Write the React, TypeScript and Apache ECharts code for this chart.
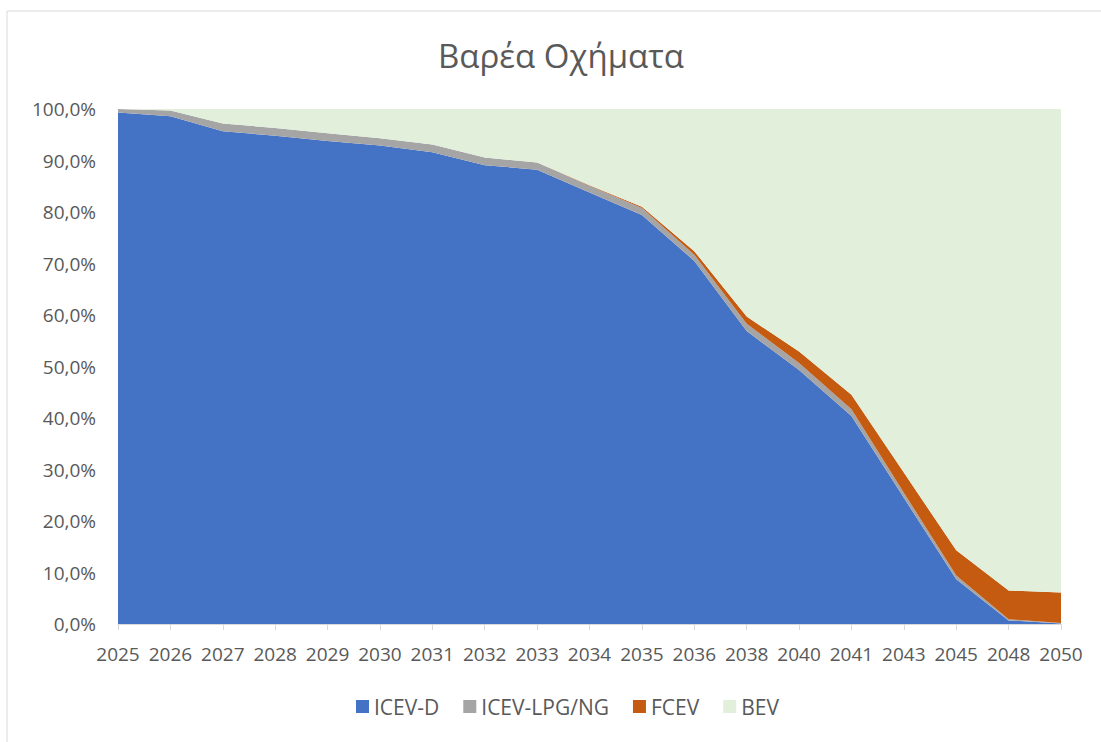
import React, { useEffect, useRef } from "react";
import * as echarts from "echarts";

const years = ["2025","2026","2027","2028","2029","2030","2031","2032","2033","2034","2035","2036","2038","2040","2041","2043","2045","2048","2050"];
const icevD = [99.3, 98.6, 95.7, 94.8, 93.8, 92.9, 91.6, 89.1, 88.2, 83.8, 79.4, 70.5, 56.9, 49.3, 40.4, 24.5, 8.7, 0.7, 0.1];
const icevLpg = [0.7, 1.1, 1.5, 1.5, 1.5, 1.4, 1.5, 1.5, 1.4, 1.3, 1.4, 1.2, 1.4, 1.4, 1.3, 1.0, 0.7, 0.2, 0.1];
const fcev = [0.0, 0.0, 0.0, 0.0, 0.0, 0.0, 0.0, 0.0, 0.0, 0.1, 0.2, 0.7, 1.4, 2.2, 2.8, 3.9, 4.9, 5.6, 5.9];
const bev = [0.0, 0.3, 2.8, 3.7, 4.7, 5.7, 6.9, 9.4, 10.4, 14.8, 19.0, 27.6, 40.3, 47.1, 55.5, 70.6, 85.7, 93.5, 93.9];
const seriesNames = ["ICEV-D", "ICEV-LPG/NG", "FCEV", "BEV"];
const seriesColors = ["#4472C4", "#A5A5A5", "#C55A11", "#E2EFDA"];
const yTicks = [0, 10, 20, 30, 40, 50, 60, 70, 80, 90, 100];

const FONT = "'Open Sans', 'Noto Sans', sans-serif";
const TXT = "#595959";

export default function App() {
  const ref = useRef<HTMLDivElement>(null);
  useEffect(() => {
    if (!ref.current) return;
    const chart = echarts.init(ref.current, undefined, { renderer: "svg" });
    const values = [icevD, icevLpg, fcev, bev];
    chart.setOption({
      animation: false,
      backgroundColor: "#ffffff",
      textStyle: { fontFamily: FONT },
      title: {
        text: "Βαρέα Οχήματα",
        left: 433,
        top: 34,
        textStyle: { fontFamily: FONT, fontSize: 33, fontWeight: "normal", color: TXT },
      },
      graphic: [
        { type: "line", shape: { x1: 7, y1: 11, x2: 7, y2: 742 }, style: { stroke: "#d9d9d9", lineWidth: 1 } },
        { type: "line", shape: { x1: 7, y1: 11, x2: 1101, y2: 11 }, style: { stroke: "#d9d9d9", lineWidth: 1 } },
      ],
      legend: {
        bottom: 20,
        left: 351,
        icon: "rect",
        itemWidth: 13,
        itemHeight: 13,
        itemGap: 24,
        data: seriesNames,
        textStyle: { fontFamily: FONT, fontSize: 21, color: TXT },
      },
      grid: { left: 118, right: 40, top: 109, bottom: 118, containLabel: false },
      xAxis: {
        type: "category",
        boundaryGap: false,
        data: years,
        axisLine: { lineStyle: { color: "#d9d9d9", width: 1 } },
        axisTick: { show: true, length: 6, lineStyle: { color: "#d9d9d9" } },
        axisLabel: { interval: 0, margin: 20, fontFamily: FONT, fontSize: 19, color: TXT },
      },
      yAxis: {
        type: "value",
        min: yTicks[0],
        max: yTicks[yTicks.length - 1],
        interval: 10,
        axisLine: { show: false },
        axisTick: { show: false },
        splitLine: { show: false },
        axisLabel: {
          margin: 22,
          fontFamily: FONT,
          fontSize: 19,
          color: TXT,
          formatter: (v: number) => v.toFixed(1).replace(".", ",") + "%",
        },
      },
      series: seriesNames.map((name, i) => ({
        name,
        type: "line",
        stack: "total",
        data: values[i],
        showSymbol: false,
        symbol: "none",
        lineStyle: { width: 0 },
        itemStyle: { color: seriesColors[i] },
        areaStyle: { color: seriesColors[i], opacity: 1 },
      })),
    });
    return () => chart.dispose();
  }, []);
  return <div ref={ref} style={{ position: "fixed", left: 0, top: 0, width: 1101, height: 742 }} />;
}
